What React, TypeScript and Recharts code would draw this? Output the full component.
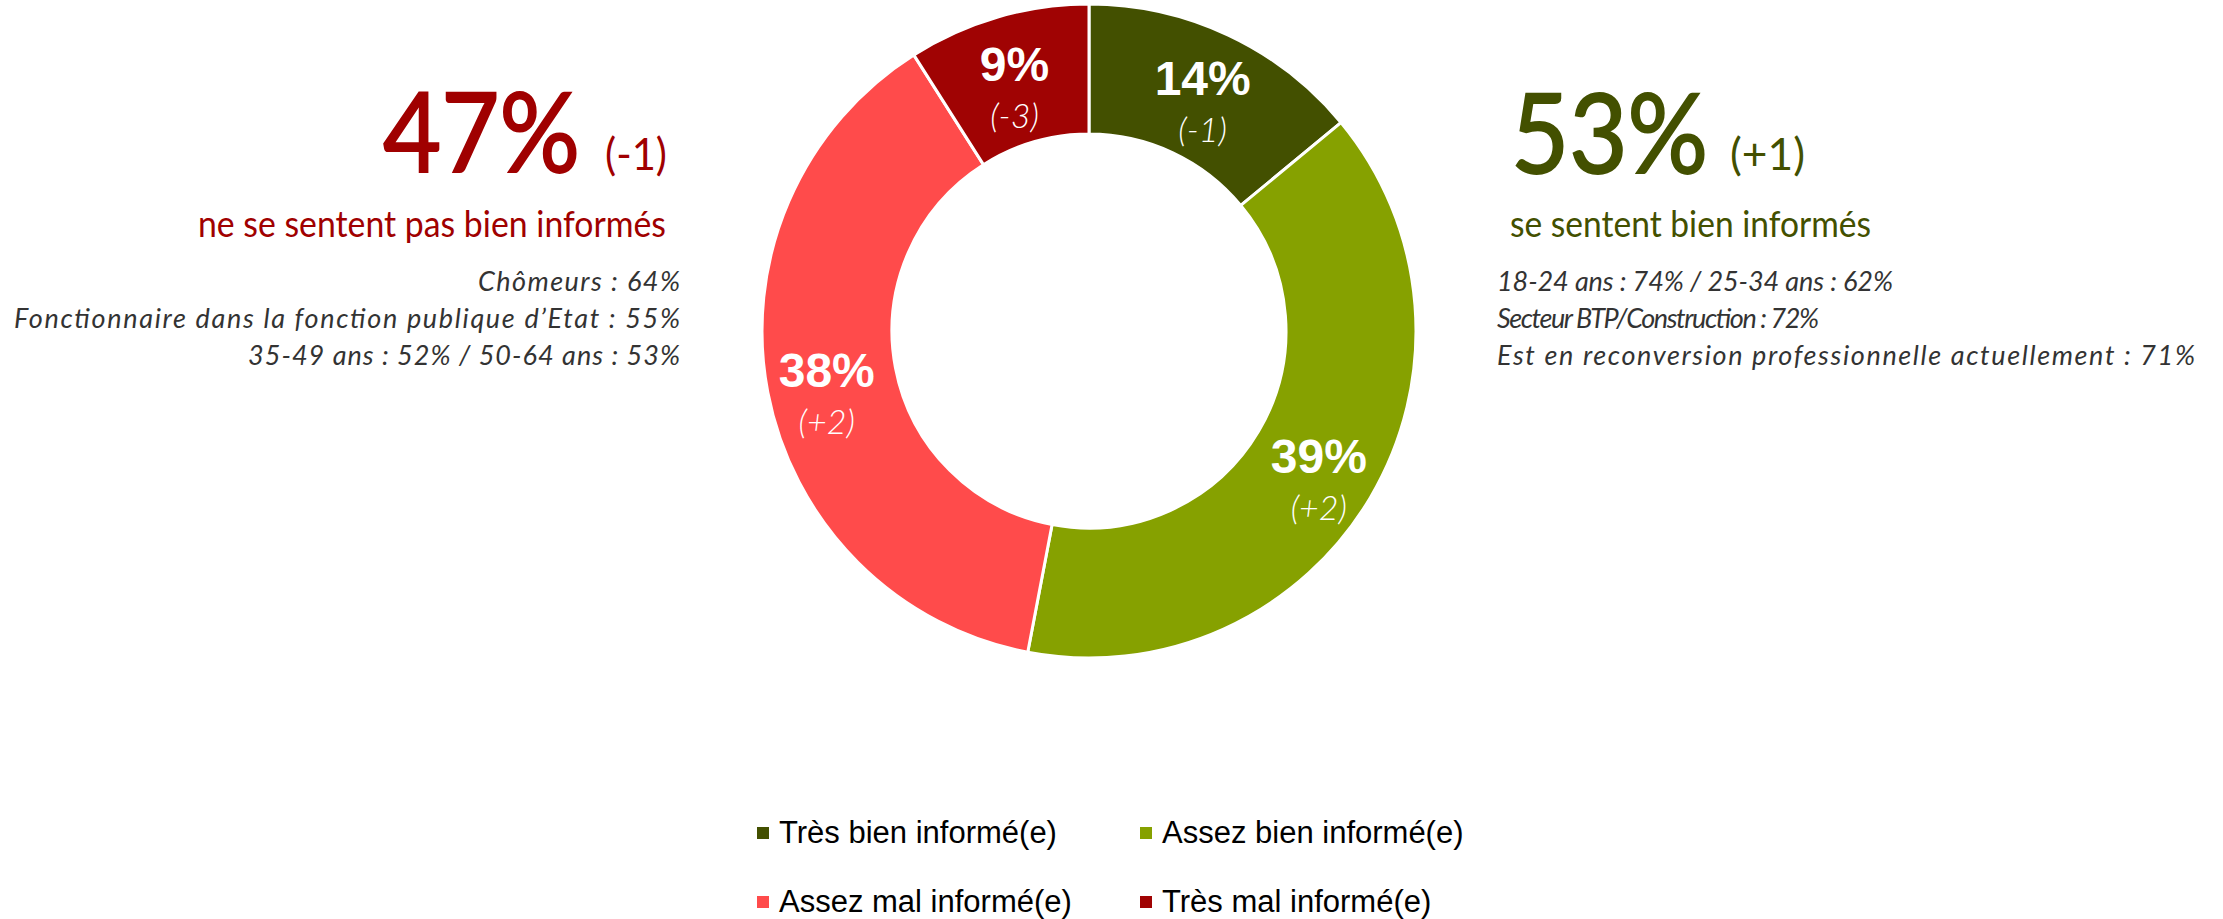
import React from "react";
import { PieChart, Pie, Cell, Legend } from "recharts";

const categories = ["Très bien informé(e)", "Assez bien informé(e)", "Assez mal informé(e)", "Très mal informé(e)"];
const shares = [14, 39, 38, 9];
const changes = ["(-1)", "(+2)", "(+2)", "(-3)"];
const colors = ["#435000", "#86A100", "#FF4B4B", "#A00303"];

const notInformedNotes = [
  "Chômeurs : 64%",
  "Fonctionnaire dans la fonction publique d’Etat : 55%",
  "35-49 ans : 52% / 50-64 ans : 53%",
];
const informedNotes = [
  "18-24 ans : 74% / 25-34 ans : 62%",
  "Secteur BTP/Construction : 72%",
  "Est en reconversion professionnelle actuellement : 71%",
];
// largeur mesurée de chaque ligne sur l'original
const notInformedWidths = [202, 666, 432];
const informedWidths = [396, 322, 698];
const totalChanges = { informed: "(+1)", notInformed: "(-1)" };

const data = categories.map((name, i) => ({ name, value: shares[i], change: changes[i] }));
const informedPct = shares[0] + shares[1];
const notInformedPct = shares[2] + shares[3];

const W = 2223;
const H = 919;
const RAD = Math.PI / 180;
const calibri = "Lato, 'Open Sans', sans-serif";
const arial = "'Liberation Sans', Arial, sans-serif";

const renderLabel = (props: any) => {
  const { cx, cy, midAngle, innerRadius, outerRadius, index, value } = props;
  const r = (innerRadius + outerRadius) / 2 + 5;
  const x = cx + r * Math.cos(-midAngle * RAD);
  const y = cy + r * Math.sin(-midAngle * RAD);
  return (
    <g key={`lbl-${index}`}>
      <text x={x} y={y + 6} textAnchor="middle" fill="#fff"
        style={{ fontFamily: arial, fontWeight: 700, fontSize: 48 }}>
        {`${value}%`}
      </text>
      <text x={x} y={y + 53} textAnchor="middle" fill="#fff"
        style={{ fontFamily: calibri, fontStyle: "italic", fontWeight: 300, fontSize: 34 }}>
        {data[index].change}
      </text>
    </g>
  );
};

const renderLegend = () => (
  <div style={{ display: "grid", gridTemplateColumns: "383px 383px", gridAutoRows: "69px" }}>
    {data.map((d, i) => (
      <div key={d.name} style={{ display: "flex", alignItems: "center", height: 34 }}>
        <span style={{ width: 12, height: 12, background: colors[i], display: "inline-block", marginRight: 10 }} />
        <span style={{ fontFamily: arial, fontSize: 31, color: "#000", lineHeight: "34px" }}>{d.name}</span>
      </div>
    ))}
  </div>
);

export default function App() {
  const note = { fontFamily: calibri, fontStyle: "italic" as const, fontWeight: 400, fontSize: 27, fill: "#333" };
  const big = { fontFamily: calibri, fontSize: 110 };
  return (
    <div style={{ position: "absolute", left: 0, top: 0, width: W, height: H, background: "#fff", overflow: "hidden" }}>
      <PieChart width={W} height={H} margin={{ top: 0, right: 0, bottom: 0, left: 0 }}>
        <Pie
          data={data}
          dataKey="value"
          nameKey="name"
          cx={1089}
          cy={331}
          innerRadius={197}
          outerRadius={327}
          startAngle={90}
          endAngle={-270}
          stroke="#ffffff"
          strokeWidth={3}
          legendType="square"
          labelLine={false}
          label={renderLabel}
          isAnimationActive={false}
        >
          {data.map((d, i) => (
            <Cell key={d.name} fill={colors[i]} />
          ))}
        </Pie>
        <Legend content={renderLegend} wrapperStyle={{ left: 757, top: 816, width: 800 }} />
      </PieChart>

      <svg width={W} height={H} style={{ position: "absolute", left: 0, top: 0, pointerEvents: "none" }}>
        {/* bloc gauche */}
        <text x={383} y={172} fill="#A00000" stroke="#A00000" strokeWidth={2} textLength={197}
          lengthAdjust="spacingAndGlyphs" style={big}>{`${notInformedPct}%`}</text>
        <text x={605} y={170} fill="#A00000" textLength={62} lengthAdjust="spacingAndGlyphs"
          style={{ fontFamily: calibri, fontSize: 44 }}>{totalChanges.notInformed}</text>
        <text x={198} y={237} fill="#A00000" textLength={468} lengthAdjust="spacingAndGlyphs"
          style={{ fontFamily: calibri, fontSize: 36 }}>ne se sentent pas bien informés</text>
        {notInformedNotes.map((t, i) => (
          <text key={t} x={680 - notInformedWidths[i]} y={291 + i * 37} textLength={notInformedWidths[i]}
            lengthAdjust="spacing" style={note}>{t}</text>
        ))}

        {/* bloc droit */}
        <text x={1511} y={173} fill="#435000" stroke="#435000" strokeWidth={2} textLength={197}
          lengthAdjust="spacingAndGlyphs" style={big}>{`${informedPct}%`}</text>
        <text x={1730} y={170} fill="#435000" textLength={75} lengthAdjust="spacingAndGlyphs"
          style={{ fontFamily: calibri, fontSize: 44 }}>{totalChanges.informed}</text>
        <text x={1510} y={237} fill="#435000" textLength={361} lengthAdjust="spacingAndGlyphs"
          style={{ fontFamily: calibri, fontSize: 36 }}>se sentent bien informés</text>
        {informedNotes.map((t, i) => (
          <text key={t} x={1497} y={291 + i * 37} textLength={informedWidths[i]}
            lengthAdjust="spacing" style={note}>{t}</text>
        ))}
      </svg>
    </div>
  );
}
